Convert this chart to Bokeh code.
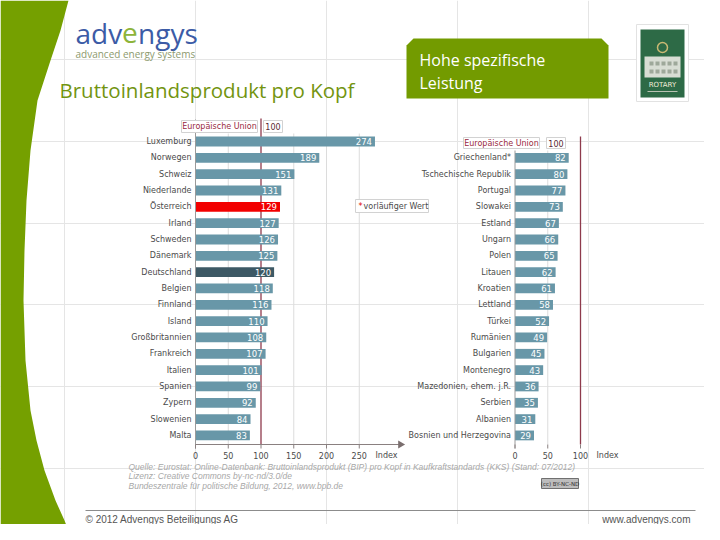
import numpy as np
from bokeh.plotting import figure
from bokeh.models import Range1d
from bokeh.core.properties import value
from bokeh.embed import file_html
from bokeh.resources import INLINE

# ---------------- data ----------------
left_countries = ["Luxemburg", "Norwegen", "Schweiz", "Niederlande", "Österreich", "Irland",
                  "Schweden", "Dänemark", "Deutschland", "Belgien", "Finnland", "Island",
                  "Großbritannien", "Frankreich", "Italien", "Spanien", "Zypern", "Slowenien", "Malta"]
left_values = [274, 189, 151, 131, 129, 127, 126, 125, 120, 118, 116, 110, 108, 107, 101, 99, 92, 84, 83]

right_countries = ["Griechenland*", "Tschechische Republik", "Portugal", "Slowakei", "Estland",
                   "Ungarn", "Polen", "Litauen", "Kroatien", "Lettland", "Türkei", "Rumänien",
                   "Bulgarien", "Montenegro", "Mazedonien, ehem. j.R.", "Serbien", "Albanien",
                   "Bosnien und Herzegovina"]
right_values = [82, 80, 77, 73, 67, 66, 65, 62, 61, 58, 52, 49, 45, 43, 36, 35, 31, 29]

left_ticks = [0, 50, 100, 150, 200, 250]
right_ticks = [0, 50, 100]
eu_value = 100

source_lines = [
    "Quelle: Eurostat: Online-Datenbank: Bruttoinlandsprodukt (BIP) pro Kopf in Kaufkraftstandards (KKS) (Stand: 07/2012)",
    "Lizenz: Creative Commons by-nc-nd/3.0/de",
    "Bundeszentrale für politische Bildung, 2012, www.bpb.de",
]

# ---------------- layout constants ----------------
W, H = 704, 524
K = 0.655          # px per index unit
L0, R0 = 195, 514.5
ROW0, ROWSTEP = 141, 16.33
AX_Y = 444

BAR = "#6897A8"
BAR_DE = "#3D5965"
BAR_AT = "#F20000"
EU = "#8E3A4C"
GREEN = "#75A000"
LABEL = "#4A4A4A"
CF = value("DejaVu Sans")

p = figure(width=W, height=H, output_backend="svg", toolbar_location=None,
           x_axis_location=None, y_axis_location=None, min_border=0,
           x_range=Range1d((0 - L0) / K, (W - L0) / K),
           y_range=Range1d((H - ROW0) / ROWSTEP, (0 - ROW0) / ROWSTEP))
p.outline_line_color = None
p.background_fill_color = "white"
p.border_fill_color = "white"
p.extra_x_ranges = {"rx": Range1d((0 - R0) / K, (W - R0) / K), "px": Range1d(0, W)}
p.extra_y_ranges = {"py": Range1d(H, 0)}

PX = dict(x_range_name="px", y_range_name="py")


def ptext(x, y, t, size, color, align="left", font="DejaVu Sans", style="normal"):
    p.text(x=[x], y=[y], text=[t], text_font=value(font), text_font_size=f"{size}px",
           text_color=color, text_align=align, text_baseline="middle",
           text_font_style=style, **PX)


# ---------------- green strip ----------------
gx = [0, 68, 60, 50, 37, 30, 26, 24, 23, 25, 30, 36, 44, 55, 64, 72, 0]
gy = [0, 0, 30, 60, 100, 150, 200, 250, 300, 360, 410, 440, 470, 500, 520, 540, 540]
p.patch(gx, gy, fill_color=GREEN, line_color=None, **PX)

# ---------------- header ----------------
ptext(75, 32, "adv", 28, "#3C5BA6", font="Open Sans")
ptext(121.5, 32, "e", 28, "#8DB43A", font="Open Sans")
ptext(137.5, 32, "ngys", 28, "#3C5BA6", font="Open Sans")
ptext(75, 53, "advanced energy systems", 10, "#8D9A6E", font="Open Sans")
ptext(59, 89, "Bruttoinlandsprodukt pro Kopf", 20.5, "#729410", font="Open Sans")

p.patch([406, 406, 413, 601, 608, 608], [98, 45, 38, 38, 45, 98],
        fill_color="#739B00", line_color=None, **PX)
ptext(419, 59, "Hohe spezifische", 16, "white", font="Open Sans")
ptext(419, 82, "Leistung", 16, "white", font="Open Sans")

# rotary logo
p.quad(left=[636], right=[688], top=[24], bottom=[101], fill_color="white",
       line_color="#E2E2E2", **PX)
p.quad(left=[640], right=[684], top=[29], bottom=[97], fill_color="#2D6A46",
       line_color=None, **PX)
p.quad(left=[644], right=[680], top=[56], bottom=[77], fill_color="#D8DDD4",
       line_color=None, **PX)
p.scatter(x=[662], y=[47], size=10, marker="circle", fill_color=None,
          line_color="#C9B873", line_width=1.5, **PX)
p.scatter(x=[651, 657, 663, 669, 675] * 2, y=[63] * 5 + [71] * 5, marker="square", size=4,
          fill_color="#9EA89A", line_color=None, **PX)
ptext(662, 84, "ROTARY", 7, "#F0EBD8", align="center", font="DejaVu Sans")
p.segment(x0=[647], y0=[91], x1=[677], y1=[91], line_color="#B8C2B2", line_width=1, **PX)

# ---------------- left chart ----------------
yl = np.arange(len(left_values))
colors_l = [BAR_AT if c == "Österreich" else BAR_DE if c == "Deutschland" else BAR
            for c in left_countries]

for t in left_ticks:
    if t not in (0, eu_value):
        p.segment(x0=[t], y0=[133], x1=[t], y1=[AX_Y], line_color="#DCDCDC",
                  line_width=1, y_range_name="py")
p.segment(x0=[eu_value], y0=[118], x1=[eu_value], y1=[AX_Y], line_color=EU,
          line_width=1.3, y_range_name="py")

p.hbar(y=yl, left=0, right=left_values, height=0.6, fill_color=colors_l, line_color=None)
p.text(x=left_values, y=yl, text=[str(v) for v in left_values], x_offset=-3,
       text_align="right", text_baseline="middle", text_font=CF,
       text_font_size="8.5px", text_color="white")
p.text(x=[0] * len(yl), y=yl, text=left_countries, x_offset=-4, text_align="right",
       text_baseline="middle", text_font=CF, text_font_size="8px", text_color=LABEL)

# axes
p.segment(x0=[0], y0=[119], x1=[0], y1=[AX_Y + 4], line_color="#9A9A9A", line_width=1,
          y_range_name="py")
p.segment(x0=[L0], y0=[AX_Y], x1=[399], y1=[AX_Y], line_color="#8A8080", line_width=1, **PX)
p.scatter(x=[400], y=[AX_Y], marker="triangle", angle=-np.pi / 2, size=8,
          fill_color="#7A6E6E", line_color=None, **PX)
p.segment(x0=left_ticks, y0=[AX_Y] * len(left_ticks), x1=left_ticks,
          y1=[AX_Y + 4] * len(left_ticks), line_color="#8A8080", y_range_name="py")
p.text(x=left_ticks, y=[455] * len(left_ticks), text=[str(t) for t in left_ticks],
       text_align="center", text_baseline="middle", text_font=CF, text_font_size="8px",
       text_color=LABEL, y_range_name="py")
ptext(375, 455, "Index", 8, LABEL)

# EU label boxes
p.quad(left=[181], right=[257], top=[120], bottom=[132], fill_color="white",
       line_color="#D2D2D2", **PX)
ptext(219, 126, "Europäische Union", 8, "#9A2B3E", align="center")
p.quad(left=[263], right=[282], top=[120], bottom=[132], fill_color="white",
       line_color="#D2D2D2", **PX)
ptext(272.5, 126, "100", 8, "#5A2A33", align="center")

# footnote box
p.quad(left=[355], right=[428], top=[199], bottom=[212], fill_color="white",
       line_color="#D2D2D2", **PX)
ptext(358, 205.5, "*", 8, "#E00000")
ptext(363, 205.5, "vorläufiger Wert", 8, LABEL)

# ---------------- right chart ----------------
yr = np.arange(len(right_values)) + 1
RX = dict(x_range_name="rx")

p.segment(x0=[50], y0=[150], x1=[50], y1=[AX_Y], line_color="#DCDCDC", line_width=1,
          x_range_name="rx", y_range_name="py")
p.segment(x0=[eu_value], y0=[136], x1=[eu_value], y1=[AX_Y], line_color=EU,
          line_width=1.3, x_range_name="rx", y_range_name="py")
p.hbar(y=yr, left=0, right=right_values, height=0.6, fill_color=BAR, line_color=None, **RX)
p.text(x=right_values, y=yr, text=[str(v) for v in right_values], x_offset=-3,
       text_align="right", text_baseline="middle", text_font=CF,
       text_font_size="8.5px", text_color="white", **RX)
p.text(x=[0] * len(yr), y=yr, text=right_countries, x_offset=-4, text_align="right",
       text_baseline="middle", text_font=CF, text_font_size="8px", text_color=LABEL, **RX)

p.segment(x0=[0], y0=[150], x1=[0], y1=[AX_Y + 4], line_color="#9A9A9A", line_width=1,
          x_range_name="rx", y_range_name="py")
p.segment(x0=right_ticks, y0=[AX_Y] * len(right_ticks), x1=right_ticks,
          y1=[AX_Y + 4] * len(right_ticks), line_color="#8A8080",
          x_range_name="rx", y_range_name="py")
p.text(x=right_ticks, y=[455] * len(right_ticks), text=[str(t) for t in right_ticks],
       text_align="center", text_baseline="middle", text_font=CF, text_font_size="8px",
       text_color=LABEL, x_range_name="rx", y_range_name="py")
ptext(596, 455, "Index", 8, LABEL)

p.quad(left=[463], right=[539], top=[137], bottom=[148], fill_color="white",
       line_color="#D2D2D2", **PX)
ptext(501, 142.5, "Europäische Union", 8, "#9A2B3E", align="center")
p.quad(left=[546], right=[565], top=[137], bottom=[148], fill_color="white",
       line_color="#D2D2D2", **PX)
ptext(555.5, 142.5, "100", 8, "#5A2A33", align="center")

# ---------------- source & licence ----------------
for i, line in enumerate(source_lines):
    ptext(128, 466 + i * 9.5, line, 8.5, "#A8A8A8", font="Liberation Sans", style="italic")

p.quad(left=[541], right=[578], top=[478], bottom=[488], fill_color="#BDBDBD",
       line_color="#707070", **PX)
ptext(559.5, 483, "(cc) BY-NC-ND", 5.5, "#333333", align="center")

# ---------------- footer ----------------
p.segment(x0=[85], y0=[510], x1=[695], y1=[510], line_color="#8C8C8C", line_width=1, **PX)
ptext(85, 519, "© 2012 Advengys Beteiligungs AG", 10, "#555555", font="Liberation Sans")
ptext(690, 519, "www.advengys.com", 10, "#555555", align="right", font="Liberation Sans")

open("out.html", "w").write(file_html(p, INLINE))
